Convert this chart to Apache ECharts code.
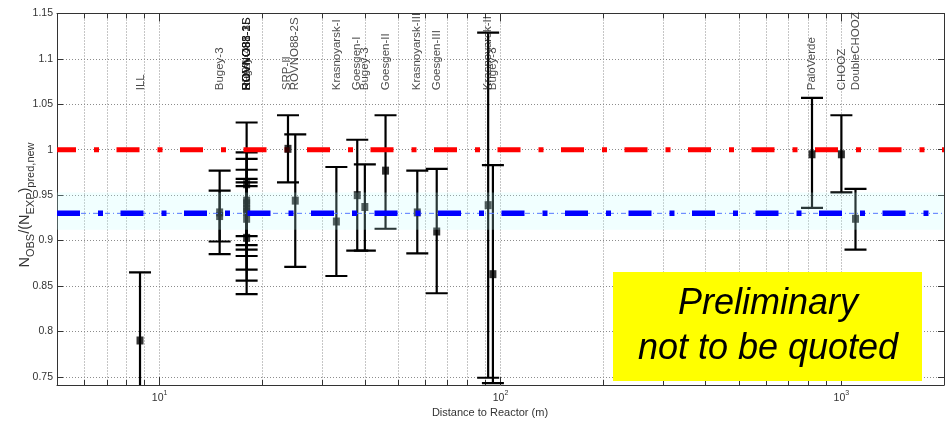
<!DOCTYPE html>
<html>
<head>
<meta charset="utf-8">
<script src="https://cdn.jsdelivr.net/npm/echarts@6/dist/echarts.min.js"></script>
<style>
html,body{margin:0;padding:0;background:#fff;}
#chart{width:947px;height:425px;}
</style>
</head>
<body>
<div id="chart"></div>
<script>
// ---- data ----
const xRange = [5, 2000];            // distance axis extent (m)
const yRange = [0.741, 1.15];        // ratio axis extent
const yStep = 0.05;

// error bars: distance, central value, lower end, upper end
const barDist = [8.76, 15, 15, 18, 18, 18, 18, 18, 18, 18, 23.8, 25, 33, 38, 40, 46, 57, 65, 92, 95, 820, 1000, 1100];
const barVal  = [0.790, 0.931, 0.927, 0.962, 0.944, 0.941, 0.932, 0.935, 0.924, 0.903, 1.001, 0.944, 0.921, 0.950, 0.937, 0.977, 0.931, 0.910, 0.939, 0.863, 0.995, 0.995, 0.924];
const barLo   = [0.715, 0.885, 0.899, 0.895, 0.890, 0.883, 0.868, 0.905, 0.856, 0.841, 0.964, 0.871, 0.861, 0.889, 0.889, 0.913, 0.886, 0.842, 0.749, 0.743, 0.936, 0.953, 0.890];
const barHi   = [0.865, 0.977, 0.955, 1.030, 0.997, 0.990, 0.978, 0.964, 0.968, 0.960, 1.038, 1.017, 0.981, 1.011, 0.984, 1.038, 0.977, 0.979, 1.129, 0.983, 1.057, 1.038, 0.957];

// experiment names written above the points
const labelNames = ['ILL', 'Bugey-3', 'Bugey-4', 'ROVNO91', 'ROVNO88-1I', 'ROVNO88-2I', 'ROVNO88-1S', 'ROVNO88-3S', 'SRP-I',
                    'SRP-II', 'ROVNO88-2S', 'Krasnoyarsk-I', 'Goesgen-I', 'Bugey-3', 'Goesgen-II', 'Krasnoyarsk-III',
                    'Goesgen-III', 'Krasnoyarsk-II', 'Bugey-3', 'PaloVerde', 'CHOOZ', 'DoubleCHOOZ'];
const labelDist  = [8.78, 15, 18, 18, 18, 18, 18, 18, 18,
                    23.6, 25, 33, 38, 40, 46, 57,
                    65, 92, 95, 820, 1000, 1100];
const labelBase = 1.0655;            // value where the names start

const refLine = 1.0;                 // no-oscillation expectation
const meanLine = 0.930;              // mean ratio
const meanBand = [0.912, 0.953];     // band around the mean

// ---- chart ----
const chart = echarts.init(document.getElementById('chart'));
const FONT = '"Liberation Sans", Arial, sans-serif';
const NARROW = '"Liberation Sans Narrow", "Liberation Sans", Arial, sans-serif';

const grid = {left: 57, top: 13.5, width: 893, height: 371.5};

function isPow10(v) {
  const l = Math.log10(v);
  return Math.abs(l - Math.round(l)) < 1e-9;
}

const errData = barDist.map((d, i) => [d, barVal[i], barLo[i], barHi[i]]);
const sqData = barDist.map((d, i) => [d, barVal[i]]);
const lblData = labelDist.map((d, i) => ({value: [d, labelBase], name: labelNames[i]}));

const gridLine = {show: true, lineStyle: {color: '#8c8c8c', width: 1, type: [1, 2]}};

chart.setOption({
  animation: false,
  grid: grid,
  xAxis: [{
    type: 'log', logBase: 10, min: xRange[0], max: xRange[1],
    position: 'bottom',
    axisLine: {show: true, onZero: false, lineStyle: {color: '#333', width: 1}},
    axisTick: {show: true, inside: true, length: 8, lineStyle: {color: '#333'}},
    minorTick: {show: true, splitNumber: 9, length: 5, lineStyle: {color: '#333'}},
    splitLine: gridLine,
    minorSplitLine: gridLine,
    axisLabel: {
      margin: 4.5,
      formatter: v => isPow10(v) ? '{b|10}{s|' + Math.round(Math.log10(v)) + '}' : '',
      rich: {
        b: {fontSize: 10.5, fontFamily: NARROW, color: '#333', lineHeight: 12, padding: [3, 0, 0, 0], verticalAlign: 'top'},
        s: {fontSize: 7, fontFamily: NARROW, color: '#333', lineHeight: 8, verticalAlign: 'top'}
      }
    }
  }, {
    type: 'log', logBase: 10, min: xRange[0], max: xRange[1],
    position: 'top',
    axisLine: {show: true, onZero: false, lineStyle: {color: '#333', width: 1}},
    axisTick: {show: true, inside: true, length: 8, lineStyle: {color: '#333'}},
    minorTick: {show: true, splitNumber: 9, length: 5, lineStyle: {color: '#333'}},
    splitLine: {show: false},
    axisLabel: {show: false}
  }],
  yAxis: [{
    type: 'value', min: yRange[0], max: yRange[1],
    minInterval: yStep, maxInterval: yStep, splitNumber: 8,
    axisLine: {show: true, onZero: false, lineStyle: {color: '#333', width: 1}},
    axisTick: {show: true, inside: true, length: 6, lineStyle: {color: '#333'}},
    splitLine: gridLine,
    axisLabel: {
      margin: 4, color: '#333', fontSize: 10.5, fontFamily: NARROW,
      formatter: v => {
        const k = Math.round(v / yStep);
        return Math.abs(v - k * yStep) < 1e-6 ? String(+(k * yStep).toFixed(2)) : '';
      }
    }
  }, {
    type: 'value', min: yRange[0], max: yRange[1],
    minInterval: yStep, maxInterval: yStep, splitNumber: 8,
    position: 'right',
    axisLine: {show: true, onZero: false, lineStyle: {color: '#333', width: 1}},
    axisTick: {show: true, inside: true, length: 6, lineStyle: {color: '#333'}},
    splitLine: {show: false},
    axisLabel: {show: false}
  }],
  series: [
    {
      type: 'custom', name: 'errors', z: 2, clip: true, silent: true,
      encode: {x: 0, y: 1},
      data: errData,
      renderItem: function (params, api) {
        const x = api.value(0);
        const pHi = api.coord([x, api.value(3)]);
        const pLo = api.coord([x, api.value(2)]);
        const hw = 11;
        const st = {stroke: '#000', lineWidth: 2.2};
        return {type: 'group', children: [
          {type: 'line', shape: {x1: pHi[0], y1: pHi[1], x2: pLo[0], y2: pLo[1]}, style: st},
          {type: 'line', shape: {x1: pHi[0] - hw, y1: pHi[1], x2: pHi[0] + hw, y2: pHi[1]}, style: st},
          {type: 'line', shape: {x1: pLo[0] - hw, y1: pLo[1], x2: pLo[0] + hw, y2: pLo[1]}, style: st}
        ]};
      }
    },
    {
      type: 'line', name: 'ref', z: 3, silent: true, symbol: 'none',
      data: [[xRange[0], refLine], [xRange[1], refLine]],
      lineStyle: {color: '#ff0000', width: 5, type: [23, 18, 5, 17.5], dashOffset: 4, cap: 'butt'}
    },
    {
      type: 'scatter', name: 'points', z: 4, silent: true,
      symbol: 'rect', symbolSize: [7, 8],
      itemStyle: {color: '#000'},
      data: sqData
    },
    {
      type: 'custom', name: 'band', z: 5, clip: true, silent: true,
      encode: {x: 0, y: 1},
      data: [[xRange[0], meanBand[0], xRange[1], meanBand[1]]],
      renderItem: function (params, api) {
        const p0 = api.coord([api.value(0), api.value(3)]);
        const p1 = api.coord([api.value(2), api.value(1)]);
        return {type: 'rect', shape: {x: p0[0], y: p0[1], width: p1[0] - p0[0], height: p1[1] - p0[1]},
                style: {fill: 'rgba(190,255,255,0.22)'}};
      }
    },
    {
      type: 'line', name: 'meanThin', z: 6, silent: true, symbol: 'none',
      data: [[xRange[0], meanLine], [xRange[1], meanLine]],
      lineStyle: {color: '#5577ff', width: 1, type: [5, 3, 1, 3]}
    },
    {
      type: 'line', name: 'mean', z: 7, silent: true, symbol: 'none',
      data: [[xRange[0], meanLine], [xRange[1], meanLine]],
      lineStyle: {color: '#0000ff', width: 5.5, type: [23, 18, 5, 17.5], dashOffset: 0, cap: 'butt'}
    },
    {
      type: 'scatter', name: 'names', z: 8, silent: true,
      symbolSize: 0,
      data: lblData,
      label: {
        show: true, formatter: '{b}', position: 'inside', rotate: 90,
        align: 'left', verticalAlign: 'middle',
        color: '#1a1a1a', fontSize: 11.5, fontFamily: FONT
      }
    }
  ],
  graphic: [
    {
      type: 'text', x: 490, y: 413, z: 10, silent: true,
      style: {text: 'Distance to Reactor (m)', fill: '#333', font: '11px ' + FONT, align: 'center', verticalAlign: 'middle'}
    },
    {
      type: 'text', x: 25, y: 205, rotation: Math.PI / 2, z: 10, silent: true,
      style: {
        text: '{n|N}{s|OBS}{n|/(N}{s|EXP}{n|)}{s|pred,new}',
        align: 'center', verticalAlign: 'middle',
        rich: {
          n: {fontSize: 14.5, fontFamily: FONT, fill: '#333', lineHeight: 16, verticalAlign: 'top'},
          s: {fontSize: 11, fontFamily: FONT, fill: '#333', lineHeight: 12, padding: [8, 0, 0, 0], verticalAlign: 'top'}
        }
      }
    },
    {
      type: 'rect', z: 20, silent: true,
      shape: {x: 613, y: 272, width: 309, height: 109},
      style: {fill: '#ffff00'}
    },
    {
      type: 'text', x: 768, y: 326, z: 21, silent: true,
      style: {text: 'Preliminary\nnot to be quoted', fill: '#000', font: 'italic 36px ' + FONT,
              align: 'center', verticalAlign: 'middle', lineHeight: 45}
    }
  ]
});
</script>
</body>
</html>
